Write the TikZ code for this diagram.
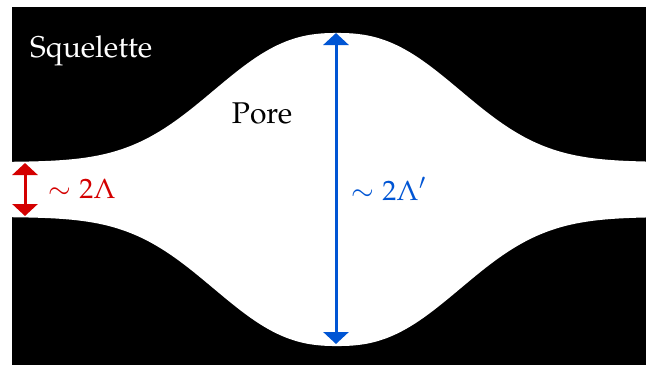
\documentclass[tikz,border=0pt]{standalone}
\usepackage[T1]{fontenc}
\usepackage{mathpazo}
\usetikzlibrary{arrows.meta}
\definecolor{myred}{RGB}{212,0,0}
\definecolor{myblue}{RGB}{0,85,212}
\begin{document}
\begin{tikzpicture}[x=1pt,y=-1pt,
  lbl/.style={inner sep=0pt, font=\fontsize{30}{36}\selectfont},
  mlbl/.style={inner sep=0pt, font=\fontsize{28}{34}\selectfont},
  dimarrow/.style={line width=3pt, {Triangle[width=25pt,length=12pt]}-{Triangle[width=25pt,length=12pt]}}]
\useasboundingbox (0,0) rectangle (646,365);
\fill[black] (12,7) rectangle (646,365);
\fill[white]
  plot[domain=12:646, samples=240, smooth] (\x, {189.5 - (27.5 + 129*exp(-((abs(\x-337)+0.01)/153)^2.45))})
  -- plot[domain=646:12, samples=240, smooth] (\x, {189.5 + (27.5 + 129*exp(-((abs(\x-337)+0.01)/153)^2.45))})
  -- cycle;
\node[lbl, text=white, anchor=base west] (sq) at (30,57) {Squelette};
\node[lbl, anchor=base] (pore) at (262,123) {Pore};
\coordinate (rt) at (25,163);
\coordinate (rb) at (25,216);
\draw[dimarrow, myred] (rt) -- (rb);
\coordinate (bt) at (336,33);
\coordinate (bb) at (336,344);
\draw[dimarrow, myblue] (bt) -- (bb);
\node[mlbl, text=myred, anchor=west] (rl) at (48,189) {$\sim 2\Lambda$};
\node[mlbl, text=myblue, anchor=west] (bl) at (351,189) {$\sim 2\Lambda'$};
\end{tikzpicture}
\end{document}
